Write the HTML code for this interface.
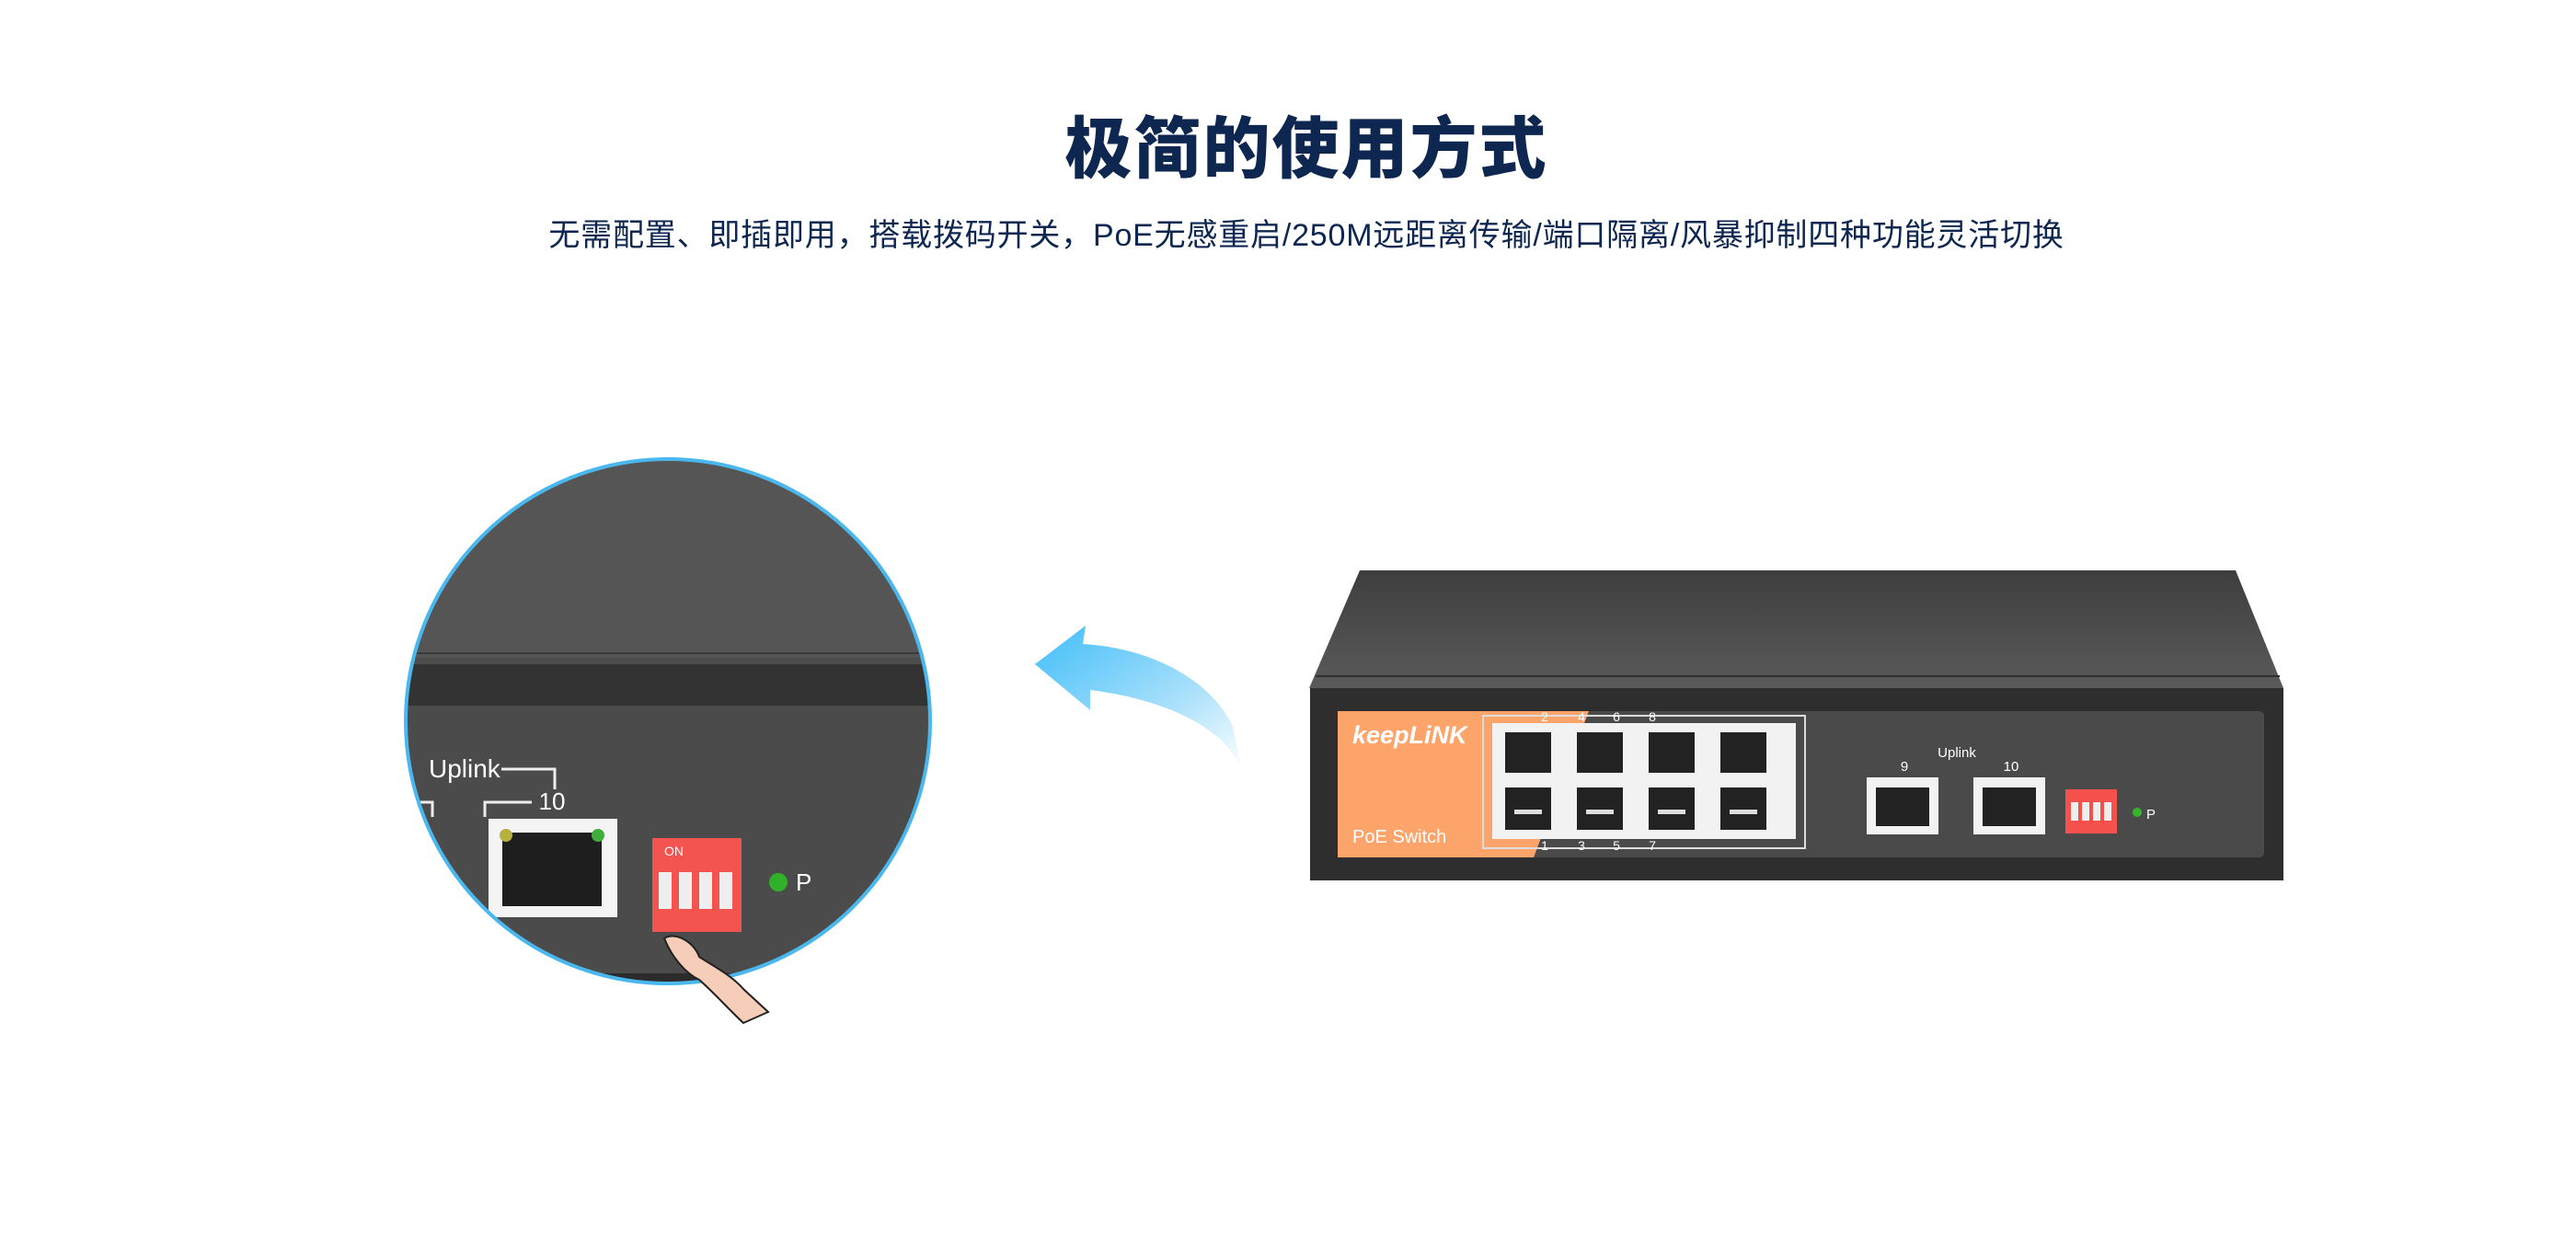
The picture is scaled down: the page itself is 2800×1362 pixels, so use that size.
<!DOCTYPE html>
<html><head><meta charset="utf-8"><style>
html,body{margin:0;padding:0;background:#fff}
body{width:2800px;height:1362px;position:relative;overflow:hidden;font-family:"Liberation Sans","Noto Sans CJK SC",sans-serif}
.t{position:absolute;left:0;width:2800px;text-align:center;color:#0e2750}
</style></head><body>
<div class="t" style="top:108px;left:20px;font-size:73px;font-weight:900;letter-spacing:2px;line-height:110px">极简的使用方式</div>
<div class="t" style="top:232px;left:20px;font-size:34px;line-height:48px;letter-spacing:0.8px">无需配置、即插即用，搭载拨码开关，PoE无感重启/250M远距离传输/端口隔离/风暴抑制四种功能灵活切换</div>
<svg width="2800" height="1362" style="position:absolute;left:0;top:0" xmlns="http://www.w3.org/2000/svg">
<defs>
<linearGradient id="top" x1="0" y1="0" x2="0" y2="1"><stop offset="0" stop-color="#3e3e3e"/><stop offset="1" stop-color="#5a5a5a"/></linearGradient>
<linearGradient id="ar" x1="0" y1="0" x2="1" y2="1"><stop offset="0" stop-color="#3fbdf8"/><stop offset="0.6" stop-color="#a9e0fb"/><stop offset="1" stop-color="#ffffff"/></linearGradient>
<clipPath id="cc"><ellipse cx="726" cy="784" rx="285" ry="285"/></clipPath>
</defs>
<polygon points="1478,620 2430,620 2482,748 1423,748" fill="url(#top)"/>
<line x1="1430" y1="735" x2="2478" y2="735" stroke="#2f2f2f" stroke-width="2"/>
<rect x="1424" y="748" width="1058" height="209" fill="#2e2e2e"/>
<rect x="1454" y="773" width="1007" height="159" rx="5" fill="#4a4a4a"/>
<polygon points="1454,773 1727,773 1667,932 1454,932" fill="#fda46b"/>
<text x="1470" y="808" font-size="27" font-style="italic" font-weight="bold" fill="#fff">keepLiNK</text>
<text x="1470" y="916" font-size="20" fill="#fff">PoE Switch</text>
<rect x="1612" y="778" width="350" height="144" fill="none" stroke="#ddd" stroke-width="2"/>
<g fill="#fff" font-size="14" text-anchor="middle">
<text x="1679" y="784">2</text><text x="1719" y="784">4</text><text x="1757" y="784">6</text><text x="1796" y="784">8</text>
<text x="1679" y="924">1</text><text x="1719" y="924">3</text><text x="1757" y="924">5</text><text x="1796" y="924">7</text>
</g>
<g>
<rect x="1622" y="786" width="330" height="126" fill="#f2f2f2"/>
<g fill="#222">
<rect x="1636" y="796" width="50" height="44"/><rect x="1714" y="796" width="50" height="44"/><rect x="1792" y="796" width="50" height="44"/><rect x="1870" y="796" width="50" height="44"/>
<rect x="1636" y="856" width="50" height="46"/><rect x="1714" y="856" width="50" height="46"/><rect x="1792" y="856" width="50" height="46"/><rect x="1870" y="856" width="50" height="46"/>
</g>
<g fill="#ddd"><rect x="1646" y="880" width="30" height="5"/><rect x="1724" y="880" width="30" height="5"/><rect x="1802" y="880" width="30" height="5"/><rect x="1880" y="880" width="30" height="5"/></g>
</g>
<text x="2127" y="823" font-size="15" fill="#fff" text-anchor="middle">Uplink</text>
<text x="2070" y="838" font-size="15" fill="#fff" text-anchor="middle">9</text>
<text x="2186" y="838" font-size="15" fill="#fff" text-anchor="middle">10</text>
<rect x="2029" y="845" width="78" height="62" fill="#f2f2f2"/><rect x="2039" y="856" width="58" height="42" fill="#222"/>
<rect x="2145" y="845" width="78" height="62" fill="#f2f2f2"/><rect x="2155" y="856" width="58" height="42" fill="#222"/>
<rect x="2245" y="858" width="56" height="48" fill="#f4504c"/>
<g fill="#eee"><rect x="2251" y="872" width="8" height="20"/><rect x="2263" y="872" width="8" height="20"/><rect x="2275" y="872" width="8" height="20"/><rect x="2287" y="872" width="8" height="20"/></g>
<circle cx="2323" cy="883" r="5" fill="#35b52b"/><text x="2333" y="890" font-size="15" fill="#fff">P</text>
<path d="M1125,722 L1180,680 L1177,700 C1260,705 1320,745 1340,790 L1350,840 C1340,800 1280,762 1185,750 L1185,772 Z" fill="url(#ar)"/>
<g clip-path="url(#cc)">
<rect x="430" y="490" width="600" height="600" fill="#555"/>
<line x1="430" y1="710" x2="1030" y2="710" stroke="#3a3a3a" stroke-width="2"/>
<rect x="430" y="715" width="600" height="7" fill="#4d4d4d"/>
<rect x="430" y="722" width="600" height="45" fill="#333"/>
<rect x="430" y="767" width="600" height="300" fill="#4b4b4b"/>
<rect x="430" y="1058" width="600" height="20" fill="#2b2b2b"/>
<text x="466" y="845" font-size="28" fill="#fff">Uplink</text>
<polyline points="545,836 603,836 603,858" fill="none" stroke="#eee" stroke-width="3"/>
<polyline points="527,888 527,872 578,872 M620,872 677,872 677,888" fill="none" stroke="#eee" stroke-width="3"/>
<text x="600" y="880" font-size="26" fill="#fff" text-anchor="middle">10</text>
<polyline points="455,872 470,872 470,888" fill="none" stroke="#eee" stroke-width="3"/>
<rect x="531" y="890" width="140" height="107" fill="#f4f4f4"/>
<rect x="546" y="905" width="108" height="80" fill="#1e1e1e"/>
<circle cx="550" cy="908" r="7" fill="#b5b040"/><circle cx="650" cy="908" r="7" fill="#3fae3a"/>
<rect x="709" y="911" width="97" height="102" fill="#f4544f"/>
<text x="722" y="930" font-size="14" fill="#fff">ON</text>
<g fill="#eee"><rect x="716" y="948" width="14" height="40"/><rect x="738" y="948" width="14" height="40"/><rect x="760" y="948" width="14" height="40"/><rect x="782" y="948" width="14" height="40"/></g>
<circle cx="846" cy="959" r="10" fill="#31b12a"/><text x="865" y="968" font-size="26" fill="#fff">P</text>
</g>
<ellipse cx="726" cy="784" rx="285" ry="285" fill="none" stroke="#4ab8ee" stroke-width="4"/>
<path d="M722,1020 C735,1012 755,1025 760,1040 C775,1050 795,1060 808,1075 L835,1100 L808,1112 C790,1095 775,1078 760,1065 C745,1058 730,1040 722,1020 Z" fill="#f6cdb8" stroke="#222" stroke-width="2"/>
</svg>
</body></html>
